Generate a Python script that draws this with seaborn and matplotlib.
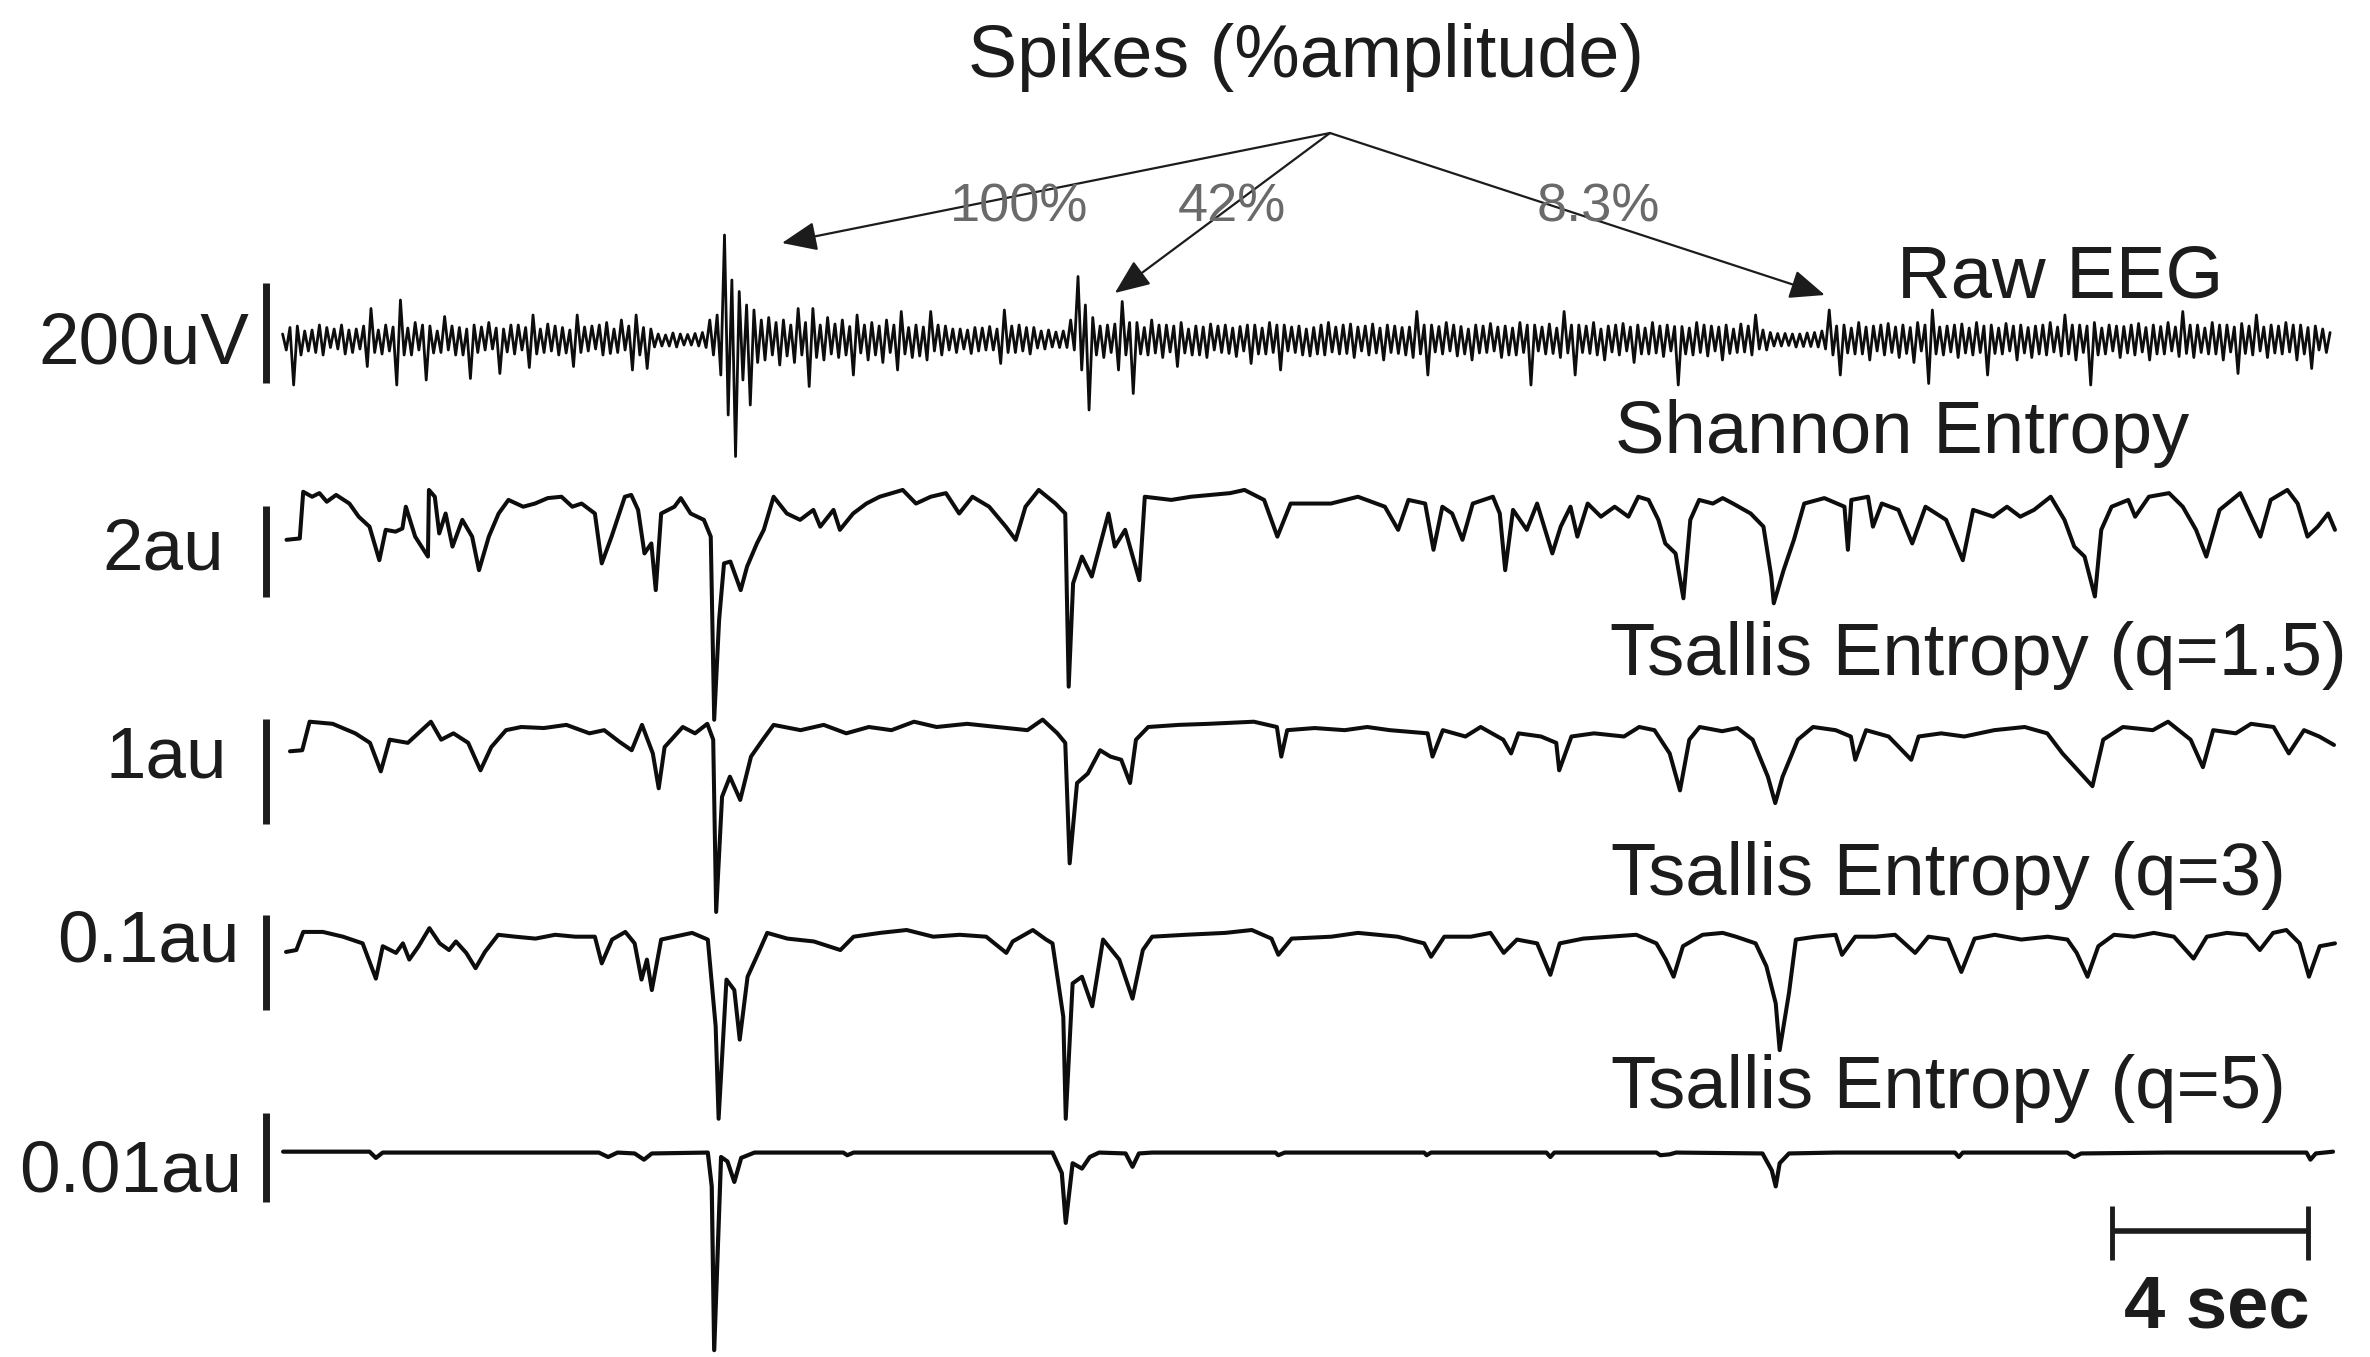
import numpy as np
import matplotlib
matplotlib.use("Agg")
import matplotlib.pyplot as plt
import seaborn as sns

sns.set_theme(style="white")
plt.rcParams['font.family'] = ['Liberation Sans', 'DejaVu Sans']

# ---------------- data ----------------
# raw EEG: successive peaks / troughs (uV), one every EEG_STEP seconds
EEG_STEP = 0.075
EEG_UV = [
    12, -20, 25, -90, 28, -30, 18, -22, 20, -25, 30, -30, 25, -15, 22, -18, 30, -28, 20, -25,
    22, -18, 28, -53, 63, -25, 20, -28, 30, -22, 26, -90, 80, -30, 24, -30, 35, -20, 30, -80,
    28, -26, 18, -25, 47, -20, 28, -30, 25, -30, 22, -77, 30, -25, 26, -20, 35, -18, 24, -67,
    22, -24, 30, -28, 30, -20, 25, -55, 50, -28, 22, -25, 32, -22, 28, -30, 25, -26, 20, -53,
    50, -25, 26, -22, 28, -18, 30, -30, 35, -27, 22, -25, 40, -20, 28, -60, 50, -30, 25, -57,
    22, -14, 12, -12, 10, -12, 14, -14, 12, -10, 11, -10, 13, -12, 15, -15, 40, -30, 50, -70,
    210, -150, 120, -233, 97, -80, 70, -130, 60, -45, 40, -40, 45, -30, 35, -50, 40, -32, 30, -45,
    63, -30, 35, -93, 63, -35, 30, -40, 45, -28, 32, -35, 40, -30, 27, -70, 50, -26, 30, -40,
    35, -30, 28, -45, 40, -25, 30, -60, 57, -28, 25, -35, 30, -32, 26, -40, 57, -22, 30, -30,
    28, -20, 22, -25, 22, -18, 20, -27, 25, -22, 24, -20, 27, -20, 22, -47, 60, -25, 28, -25,
    30, -22, 25, -28, 25, -16, 18, -18, 20, -14, 16, -15, 18, -15, 40, -20, 127, -60, 70, -140,
    45, -30, 28, -35, 30, -25, 32, -60, 77, -30, 35, -107, 35, -28, 25, -30, 40, -26, 30, -35,
    30, -24, 28, -53, 35, -26, 22, -30, 28, -30, 26, -35, 32, -20, 28, -25, 30, -27, 24, -33,
    27, -22, 30, -47, 30, -28, 24, -28, 35, -25, 30, -60, 30, -22, 26, -25, 28, -30, 22, -32,
    25, -28, 30, -30, 35, -24, 26, -28, 30, -27, 32, -35, 26, -22, 28, -30, 32, -26, 24, -40,
    30, -25, 28, -27, 25, -30, 26, -35, 57, -28, 30, -70, 30, -24, 27, -28, 35, -22, 30, -32,
    27, -28, 22, -40, 30, -26, 28, -25, 33, -22, 26, -35, 28, -30, 24, -30, 35, -25, 30, -90,
    30, -22, 26, -28, 32, -27, 24, -35, 57, -26, 30, -70, 30, -25, 28, -27, 35, -30, 22, -40,
    28, -24, 30, -30, 33, -22, 26, -45, 30, -28, 24, -28, 35, -26, 28, -33, 30, -22, 27, -90,
    27, -28, 24, -30, 35, -25, 30, -32, 28, -22, 26, -40, 30, -27, 22, -25, 32, -24, 28, -30,
    50, -18, 20, -20, 15, -12, 13, -12, 13, -11, 12, -14, 12, -13, 14, -13, 15, -14, 18, -18,
    60, -30, 28, -70, 30, -26, 24, -28, 35, -28, 26, -40, 28, -22, 30, -30, 33, -25, 26, -35,
    30, -27, 25, -45, 35, -22, 30, -87, 60, -28, 26, -30, 28, -24, 30, -35, 32, -26, 24, -30,
    35, -25, 28, -70, 30, -27, 24, -28, 33, -22, 28, -40, 30, -26, 25, -35, 28, -28, 30, -30,
    35, -24, 26, -32, 50, -28, 30, -40, 30, -25, 28, -90, 35, -30, 24, -28, 30, -22, 28, -35,
    27, -26, 30, -30, 33, -24, 25, -40, 30, -28, 27, -28, 35, -22, 26, -33, 57, -27, 30, -35,
    30, -25, 24, -28, 35, -28, 30, -40, 30, -24, 26, -67, 33, -27, 28, -30, 50, -22, 26, -35,
    30, -26, 28, -28, 35, -24, 30, -40, 30, -28, 25, -57, 28, -20, 22, -25, 15,
]

SHANNON_T = [0.08, 0.35, 0.42, 0.6, 0.75, 0.9, 1.09, 1.36, 1.55, 1.77, 1.97, 2.1, 2.3, 2.44, 2.51,
             2.7, 2.96, 2.98, 3.1, 3.19, 3.32, 3.46, 3.66, 3.86, 4.0, 4.2, 4.4, 4.6, 4.9, 5.14, 5.4,
             5.68, 5.9, 6.09, 6.36, 6.5, 6.7, 6.97, 7.1, 7.24, 7.37, 7.51, 7.6, 7.71, 7.98, 8.11,
             8.31, 8.58, 8.72, 8.79, 8.89, 8.99, 9.12, 9.33, 9.46, 9.66, 9.8, 10.0, 10.27, 10.54,
             10.81, 10.95, 11.22, 11.35, 11.62, 11.89, 12.16, 12.63, 12.9, 13.2, 13.51, 13.78,
             14.05, 14.39, 14.73, 14.93, 15.13, 15.4, 15.74, 15.94, 16.01, 16.1, 16.28, 16.48,
             16.82, 16.95, 17.16, 17.45, 17.56, 18.1, 18.5, 18.91, 19.3, 19.59, 19.99, 20.26,
             20.53, 21.35, 21.9, 22.45, 22.72, 22.93, 23.27, 23.44, 23.62, 23.82, 24.03, 24.24,
             24.65, 24.79, 24.9, 25.06, 25.34, 25.55, 25.86, 26.03, 26.23, 26.37, 26.58, 26.85,
             27.13, 27.41, 27.61, 27.82, 28.02, 28.16, 28.37, 28.53, 28.67, 28.85, 29.13, 29.33,
             29.54, 29.9, 30.16, 30.32, 30.37, 30.57, 30.78, 30.99, 31.4, 31.81, 31.88, 31.95,
             32.29, 32.39, 32.57, 32.91, 33.19, 33.46, 33.88, 34.22, 34.43, 34.84, 35.12, 35.39,
             35.67, 36.01, 36.29, 36.49, 36.7, 36.91, 37.04, 37.25, 37.59, 37.73, 38.01, 38.42,
             38.7, 38.97, 39.18, 39.45, 39.87, 40.28, 40.49, 40.83, 41.04, 41.24, 41.45, 41.66, 41.8]
SHANNON_AU = [4.46, 4.49, 5.52, 5.41, 5.49, 5.30, 5.45, 5.26, 4.97, 4.75, 4.01, 4.68, 4.64, 4.71,
              5.19, 4.53, 4.09, 5.56, 5.41, 4.60, 5.04, 4.31, 4.90, 4.53, 3.79, 4.53, 5.04, 5.34,
              5.19, 5.26, 5.38, 5.41, 5.19, 5.26, 5.04, 3.94, 4.53, 5.41, 5.45, 5.12, 4.16, 4.38,
              3.35, 5.04, 5.19, 5.38, 5.04, 4.90, 4.53, 0.49, 2.69, 3.94, 3.98, 3.35, 3.87, 4.38,
              4.68, 5.41, 5.04, 4.90, 5.12, 4.75, 5.12, 4.68, 5.04, 5.26, 5.41, 5.56, 5.26, 5.41,
              5.49, 5.04, 5.41, 5.19, 4.75, 4.46, 5.19, 5.56, 5.26, 5.04, 1.22, 3.50, 4.09, 3.65,
              5.04, 4.31, 4.68, 3.57, 5.41, 5.34, 5.41, 5.45, 5.49, 5.56, 5.34, 4.53, 5.26,
              5.26, 5.41, 5.19, 4.68, 5.34, 5.26, 4.24, 5.19, 5.04, 4.46, 5.26, 5.41, 5.04, 3.79,
              5.12, 4.68, 5.26, 4.16, 4.75, 5.19, 4.53, 5.26, 4.97, 5.19, 4.97, 5.41, 5.34, 4.90,
              4.38, 4.16, 3.17, 4.90, 5.34, 5.26, 5.38, 5.26, 5.04, 4.75, 3.65, 3.06, 3.79, 4.46,
              5.26, 5.38, 5.19, 4.24, 5.34, 5.41, 4.75, 5.26, 5.12, 4.38, 5.19, 4.90, 4.01, 5.12,
              4.97, 5.19, 4.97, 5.12, 5.41, 4.90, 4.31, 4.09, 3.21, 4.68, 5.19, 5.34, 4.97, 5.41,
              5.49, 5.19, 4.68, 4.09, 5.12, 5.49, 4.53, 5.34, 5.56, 5.26, 4.53, 4.75, 5.04, 4.68]

Q15_T = [0.15, 0.4, 0.55, 1.02, 1.48, 1.78, 2.0, 2.18, 2.55, 3.02, 3.23, 3.48, 3.78, 4.03, 4.25,
         4.55, 4.86, 5.32, 5.78, 6.25, 6.55, 6.86, 7.11, 7.32, 7.54, 7.66, 7.78, 8.15, 8.4, 8.65,
         8.77, 8.83, 8.95, 9.11, 9.32, 9.54, 9.78, 10.0, 10.55, 11.02, 11.48, 11.94, 12.4, 12.86,
         13.32, 13.94, 14.55, 15.17, 15.48, 15.78, 15.94, 16.03, 16.18, 16.4, 16.65, 16.86,
         17.08, 17.26, 17.38, 17.63, 18.25, 18.86, 19.78, 20.25, 20.34, 20.46, 21.02, 21.63,
         22.09, 22.55, 23.32, 23.42, 23.63, 24.09, 24.4, 24.86, 25.02, 25.17, 25.63, 25.94,
         26.0, 26.25, 26.71, 27.32, 27.63, 27.94, 28.25, 28.46, 28.65, 28.86, 29.32, 29.63,
         29.94, 30.25, 30.4, 30.55, 30.86, 31.17, 31.63, 31.94, 32.03, 32.25, 32.71, 33.17,
         33.32, 33.78, 34.25, 34.86, 35.48, 35.94, 36.25, 36.86, 37.08, 37.48, 38.09, 38.4,
         38.86, 39.11, 39.32, 39.78, 40.09, 40.55, 40.86, 41.17, 41.48, 41.78]
Q15_AU = [1.92, 1.93, 2.20, 2.18, 2.09, 2.00, 1.73, 2.03, 2.00, 2.20, 2.03, 2.09, 2.00, 1.74, 1.96,
          2.12, 2.15, 2.14, 2.17, 2.09, 2.12, 2.01, 1.93, 2.17, 1.90, 1.57, 1.96, 2.15, 2.09, 2.18,
          2.03, 0.40, 1.49, 1.68, 1.46, 1.87, 2.03, 2.17, 2.12, 2.17, 2.09, 2.15, 2.12, 2.20,
          2.15, 2.18, 2.15, 2.12, 2.22, 2.09, 2.00, 0.86, 1.62, 1.71, 1.93, 1.87,
          1.84, 1.62, 2.03, 2.15, 2.17, 2.18, 2.20, 2.15, 1.87, 2.12, 2.14, 2.12,
          2.15, 2.12, 2.09, 1.87, 2.12, 2.06, 2.15, 2.03, 1.90, 2.09, 2.06, 2.00,
          1.74, 2.06, 2.09, 2.06, 2.15, 2.12, 1.90, 1.55, 2.03, 2.15, 2.11, 2.14,
          2.03, 1.68, 1.43, 1.68, 2.03, 2.15, 2.12, 2.06, 1.84, 2.12, 2.06, 1.84,
          2.06, 2.09, 2.06, 2.12, 2.15, 2.09, 1.90, 1.59, 2.03, 2.15, 2.12, 2.20,
          2.03, 1.77, 2.12, 2.09, 2.18, 2.15, 1.90, 2.12, 2.06, 1.98]

Q3_T = [0.07, 0.28, 0.42, 0.82, 1.23, 1.63, 1.9, 2.04, 2.31, 2.45, 2.58, 2.77, 2.99, 3.2, 3.39,
        3.53, 3.74, 3.93, 4.12, 4.39, 4.74, 5.15, 5.55, 5.96, 6.36, 6.5, 6.71, 6.98, 7.17, 7.31,
        7.42, 7.52, 7.71, 7.98, 8.34, 8.66, 8.82, 8.88, 9.04, 9.2, 9.31, 9.47, 9.69, 9.87, 10.28,
        10.82, 11.36, 11.63, 12.17, 12.71, 13.25, 13.79, 14.33, 14.74, 14.87, 15.28, 15.55,
        15.68, 15.9, 15.95, 16.09, 16.28, 16.49, 16.71, 17.04, 17.31, 17.52, 17.71, 18.39, 19.2,
        19.74, 20.14, 20.28, 20.55, 21.36, 21.9, 22.71, 23.25, 23.39, 23.66, 24.2, 24.6, 24.87,
        25.14, 25.55, 25.82, 26.01, 26.49, 27.03, 27.57, 27.98, 28.17, 28.33, 28.52, 28.92,
        29.33, 29.6, 30.0, 30.22, 30.41, 30.49, 30.68, 30.82, 31.22, 31.63, 31.76, 32.03, 32.44,
        32.84, 33.25, 33.52, 33.92, 34.19, 34.46, 34.87, 35.41, 35.95, 36.35, 36.54, 36.76,
        36.98, 37.3, 37.71, 38.11, 38.52, 38.92, 39.19, 39.6, 40.0, 40.27, 40.54, 40.81, 41.08,
        41.27, 41.49, 41.8]
Q3_AU = [0.256, 0.258, 0.277, 0.277, 0.272, 0.265, 0.228, 0.262, 0.255, 0.265, 0.248, 0.262,
         0.281, 0.265, 0.258, 0.267, 0.255, 0.239, 0.256, 0.274, 0.272, 0.270, 0.274, 0.272,
         0.272, 0.244, 0.269, 0.277, 0.265, 0.227, 0.248, 0.216, 0.269, 0.272, 0.276, 0.269,
         0.178, 0.081, 0.227, 0.216, 0.164, 0.230, 0.255, 0.276, 0.270, 0.267, 0.258, 0.272,
         0.276, 0.279, 0.272, 0.274, 0.272, 0.255, 0.267, 0.279, 0.269, 0.265, 0.188, 0.081,
         0.223, 0.230, 0.199, 0.269, 0.248, 0.207, 0.258, 0.272, 0.274, 0.276, 0.279, 0.270,
         0.253, 0.270, 0.272, 0.276, 0.272, 0.265, 0.251, 0.272, 0.272, 0.276, 0.255, 0.269,
         0.265, 0.232, 0.265, 0.270, 0.272, 0.274, 0.265, 0.248, 0.230, 0.262, 0.274, 0.276,
         0.272, 0.265, 0.241, 0.202, 0.153, 0.213, 0.269, 0.272, 0.274, 0.253, 0.272, 0.272,
         0.274, 0.255, 0.272, 0.269, 0.235, 0.270, 0.274, 0.269, 0.272, 0.269, 0.255, 0.230,
         0.262, 0.274, 0.272, 0.276, 0.272, 0.249, 0.272, 0.276, 0.274, 0.258, 0.276, 0.279,
         0.265, 0.230, 0.262, 0.265]

Q5_T = [0.01, 1.77, 1.9, 2.04, 4.07, 6.44, 6.63, 6.82, 7.17, 7.36, 7.52, 8.66, 8.74, 8.79, 8.93,
        9.06, 9.2, 9.34, 9.61, 11.42, 11.5, 11.63, 15.68, 15.87, 15.95, 16.09, 16.28, 16.44,
        16.63, 17.17, 17.31, 17.44, 17.71, 20.22, 20.28, 20.41, 23.25, 23.3, 23.39, 25.74, 25.82,
        25.9, 27.98, 28.06, 28.25, 28.38, 30.14, 30.33, 30.41, 30.49, 30.68, 31.63, 34.06, 34.14,
        34.22, 36.35, 36.49, 36.63, 38.38, 41.22, 41.3, 41.41, 41.76]
Q5_AU = [0.0250, 0.0250, 0.0243, 0.0249, 0.0249, 0.0249, 0.0244, 0.0249, 0.0248, 0.0241, 0.0248,
         0.0249, 0.0211, 0.0027, 0.0244, 0.0239, 0.0216, 0.0243, 0.0249, 0.0249, 0.0246, 0.0249,
         0.0249, 0.0226, 0.0170, 0.0237, 0.0231, 0.0244, 0.0249, 0.0248, 0.0233, 0.0248, 0.0249,
         0.0249, 0.0246, 0.0249, 0.0249, 0.0246, 0.0249, 0.0249, 0.0244, 0.0249, 0.0249, 0.0246,
         0.0247, 0.0249, 0.0248, 0.0229, 0.0211, 0.0237, 0.0248, 0.0249, 0.0249, 0.0244, 0.0249,
         0.0249, 0.0244, 0.0248, 0.0249, 0.0249, 0.0241, 0.0248, 0.0250]

TRACE_NAMES = ['Raw EEG', 'Shannon Entropy', 'Tsallis Entropy (q=1.5)',
               'Tsallis Entropy (q=3)', 'Tsallis Entropy (q=5)']
SCALE_LABELS = ['200uV', '2au', '1au', '0.1au', '0.01au']
SCALE_SIZES = [200, 2, 1, 0.1, 0.01]
SPIKE_PCT = ['100%', '42%', '8.3%']
TIME_BAR_SEC = 4

# ---------------- layout ----------------
W, H = 2370, 1357
T0_PX, PX_PER_S = 282.6, 49.1
LEFT_PX, RIGHT_PX = 200, 2370
XLIM = ((LEFT_PX - T0_PX) / PX_PER_S, (RIGHT_PX - T0_PX) / PX_PER_S)
BAR_T = -0.34
INK = '#1c1c1c'
TRACE = '#0d0d0d'

fig = plt.figure(figsize=(W / 100, H / 100), dpi=100)


def channel_axes(top_px, bottom_px, ref_val, ref_px, px_per_unit):
    ax = fig.add_axes([LEFT_PX / W, 1 - bottom_px / H,
                       (RIGHT_PX - LEFT_PX) / W, (bottom_px - top_px) / H])
    ax.set_xlim(*XLIM)
    ax.set_ylim(ref_val - (bottom_px - ref_px) / px_per_unit,
                ref_val + (ref_px - top_px) / px_per_unit)
    ax.set_axis_off()
    ax.patch.set_alpha(0)
    return ax


# t, values, band top/bottom px, reference value/px, px per unit, line width, scale bar start
channels = [
    (np.arange(len(EEG_UV)) * EEG_STEP, EEG_UV, 200, 480, 0, 340, 0.5, 2.0, -86),
    (SHANNON_T, SHANNON_AU, 440, 740, 6, 470, 45.33, 2.9, 3.2),
    (Q15_T, Q15_AU, 680, 960, 2.5, 690, 105.7, 2.9, 1.23),
    (Q3_T, Q3_AU, 890, 1160, 0.3, 910, 953.3, 2.9, 0.195),
    (Q5_T, Q5_AU, 1100, 1357, 0.025, 1151.67, 8900, 3.0, 0.0193),
]

axes = []
for (t, v, top, bot, rv, rp, ppu, lw, bar_lo), size in zip(channels, SCALE_SIZES):
    ax = channel_axes(top, bot, rv, rp, ppu)
    sns.lineplot(x=np.asarray(t, dtype=float), y=np.asarray(v, dtype=float), ax=ax,
                 color=TRACE, lw=lw, sort=False, estimator=None, legend=False)
    ax.plot([BAR_T, BAR_T], [bar_lo, bar_lo + size], color=INK, lw=5,
            solid_capstyle='butt')
    axes.append(ax)


def label(x_px, y_px, s, **kw):
    kw.setdefault('color', INK)
    kw.setdefault('fontsize', 53)
    fig.text(x_px / W, 1 - y_px / H, s, va='baseline', **kw)


# trace names (right aligned) and scale labels (left of the bars)
for name, (x_px, y_px) in zip(TRACE_NAMES, [(2223, 298), (2189, 453), (2347, 675),
                                           (2286, 895), (2286, 1108)]):
    label(x_px, y_px, name, ha='right', fontsize=53.5)
for s, (x_px, y_px) in zip(SCALE_LABELS, [(249, 363), (224, 570), (227, 778),
                                          (239, 962), (242, 1192)]):
    label(x_px, y_px, s, ha='right', fontsize=52.5)

# title and spike annotations
label(1306, 77, 'Spikes (%amplitude)', ha='center', fontsize=53)
for s, x_px in zip(SPIKE_PCT, [1019, 1232, 1598]):
    label(x_px, 222, s, ha='center', fontsize=39, color='#6a6a6a', zorder=1)

ax_eeg = axes[0]
origin = (1330 / W, 1 - 133 / H)
for t_tip, uv_tip in [(10.17, 194), (16.95, 94), (31.41, 90)]:
    ax_eeg.annotate('', xy=(t_tip, uv_tip), xycoords='data', xytext=origin,
                    textcoords='figure fraction', annotation_clip=False, zorder=5,
                    arrowprops=dict(arrowstyle='-|>,head_length=0.6,head_width=0.25',
                                    mutation_scale=36, lw=1.6, color=INK,
                                    shrinkA=0, shrinkB=0))

# time scale bar (in the bottom channel, y in axes fraction)
ax5 = axes[-1]
tb = ax5.get_xaxis_transform()
band_top, band_bot = 1100, 1357
frac = lambda px: (band_bot - px) / (band_bot - band_top)
t_start = 37.25
ax5.plot([t_start, t_start + TIME_BAR_SEC], [frac(1231)] * 2, color=INK, lw=4,
         transform=tb, clip_on=False, solid_capstyle='butt')
for tt in (t_start, t_start + TIME_BAR_SEC):
    ax5.plot([tt, tt], [frac(1206), frac(1260)], color=INK, lw=3.5, transform=tb,
             clip_on=False, solid_capstyle='butt')
label(2217, 1327, f'{TIME_BAR_SEC} sec', ha='center', fontweight='bold', fontsize=53.5)

fig.savefig('out.png', dpi=100, facecolor='white')
